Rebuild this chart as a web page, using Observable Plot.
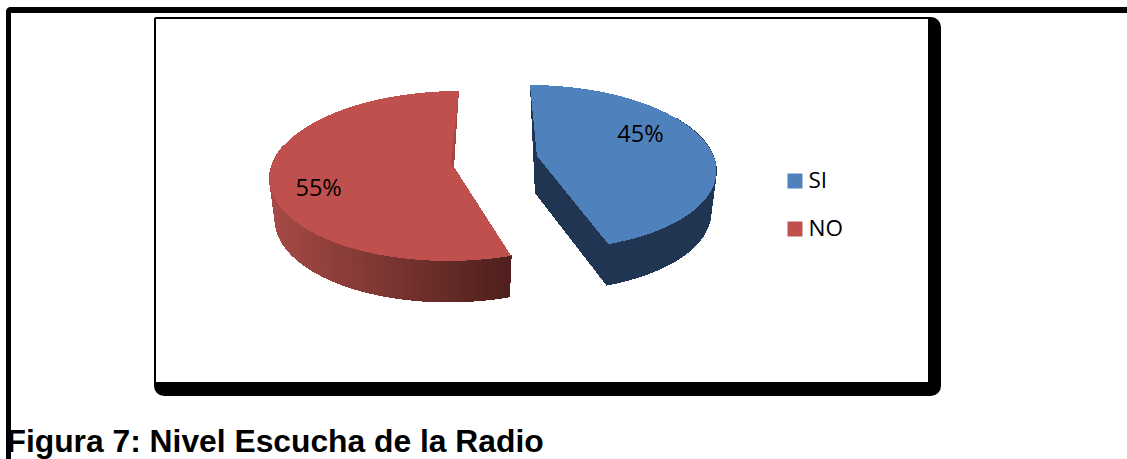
<!DOCTYPE html>
<html lang="es">
<head>
<meta charset="utf-8">
<title>Figura 7: Nivel Escucha de la Radio</title>
<script src="https://cdn.jsdelivr.net/npm/d3@7"></script>
<script src="https://cdn.jsdelivr.net/npm/@observablehq/plot@0.6"></script>
<style>
  html, body { margin: 0; padding: 0; background: #fff; }
  body { position: relative; width: 1127px; height: 459px; overflow: hidden; }
  .page-frame {
    position: absolute; left: 6px; top: 7px; width: 1140px; height: 470px;
    box-sizing: border-box;
    border-top: 6px solid #000; border-left: 5px solid #000;
    border-top-left-radius: 5px;
  }
  .chart-box {
    position: absolute; left: 154px; top: 17px; width: 787px; height: 379px;
    box-sizing: border-box; background: #fff;
    border-style: solid; border-color: #000;
    border-width: 2px 13px 14px 2px;
    border-radius: 2px 10px 10px 10px;
  }
  #chart { position: absolute; left: 0; top: 0; }
  #chart svg { background: transparent; display: block; }
</style>
</head>
<body>
<div class="page-frame"></div>
<div class="chart-box"></div>
<div id="chart"></div>
<script>
// Survey answers
const categories = ["SI", "NO"];
const percentages = [45, 55];
const faceColors = ["#4f81bd", "#c0504d"];
const captionText = "Figura 7: Nivel Escucha de la Radio";

// Scale of the pie's unit circle on the page
const centerX = 495.5, centerY = 161.5, unitX = 181, unitY = 84;

// Placement of each exploded slice, in unit-circle coordinates
const sliceSetup = {
  SI: {ox: 0.229, oy: -0.065, k: 0.136, sy: 0.96, sx: 0.975, lean: 0.044, label: [0.569, -0.262]},
  NO: {ox: -0.229, oy: 0.065, k: 0.106, sy: 1, sx: 1.01, lean: -0.03, label: [-0.751, 0.25]}
};
const wallDepth = 41 / unitY;
const floorShrink = 0.97;

const slices = d3.pie().sort(null).value((d) => d.value)(
  categories.map((name, i) => ({name, value: percentages[i], color: faceColors[i]}))
).map((arc) => ({...arc, name: arc.data.name, setup: sliceSetup[arc.data.name]}));

// Perspective projection of a rim point at angle a, on the top face or the floor
function rim(s, a, floor = false) {
  const {ox, oy, k, sy, sx, lean} = s.setup;
  const u = Math.sin(a), v = -Math.cos(a), w = 1 - k * v;
  const rx = (u * sx + lean * v) / w, ry = (sy * v) / w;
  return floor
    ? {x: ox + rx * floorShrink, y: oy + ry + wallDepth}
    : {x: ox + rx, y: oy + ry};
}
const hub = (s) => ({x: s.setup.ox, y: s.setup.oy});
const floorHub = (s) => ({x: s.setup.ox - 2 / unitX, y: s.setup.oy + 37 / unitY});

const steps = (a0, a1, n) => d3.range(n + 1).map((i) => a0 + (a1 - a0) * i / n);

// Band between two polylines of equal length
const band = (top, bottom, extra = {}) =>
  top.map((p, i) => ({x1: p.x, y1: p.y, x2: bottom[i].x, y2: bottom[i].y, ...extra}));

const [si, no] = slices;
const deg = Math.PI / 180;

// Fan of rim points around the hub gives the top face
const faceRows = (s) => {
  const ring = steps(s.startAngle, s.endAngle, 160).map((a) => rim(s, a));
  return band(ring.map(() => hub(s)), ring);
};

// Outer wall, split into strips so the red one can shade from left to right
const wallRows = (s, a0, a1, n, shade) => {
  const angles = steps(a0, a1, n);
  const xs = angles.map((a) => rim(s, a).x);
  const [xMin, xMax] = d3.extent(xs);
  return d3.range(n).flatMap((i) => {
    const pair = [angles[i], angles[i + 1]];
    const t = ((xs[i] + xs[i + 1]) / 2 - xMin) / (xMax - xMin);
    return band(pair.map((a) => rim(s, a)), pair.map((a) => rim(s, a, true)),
      {strip: i, color: shade(t)});
  });
};

const blueWall = wallRows(si, 60 * deg, si.endAngle, 50, () => "#1f3552");
const redShade = d3.interpolateRgb("#a54a46", "#4e1f1c");
const redWall = wallRows(no, no.startAngle, 285 * deg, 60, redShade);

// Cut faces of the blue slice, running from hub to rim on both sides
const blueCutNear = band(
  [hub(si), rim(si, si.endAngle)],
  [floorHub(si), rim(si, si.endAngle, true)]
);
const blueCutFar = band(
  [rim(si, si.startAngle), hub(si)],
  [rim(si, si.startAngle), floorHub(si)]
);

// Narrow cut face visible along the red slice's upper edge
const redCrease = band(
  [rim(no, no.endAngle), hub(no)],
  [rim(no, no.endAngle), {x: hub(no).x - 3 / unitX, y: hub(no).y - 4 / unitY}]
);

const bandMark = (rows, options) =>
  Plot.area(rows, {x1: "x1", y1: "y1", x2: "x2", y2: "y2", shapeRendering: "crispEdges", ...options});

const fontFamily = "'Open Sans', sans-serif";

const legendMarks = categories.flatMap((name, i) => {
  const dy = 180.5 + i * 48;
  return [
    Plot.dot([name], {
      frameAnchor: "top-left", dx: 794.5, dy, symbol: "square", r: 8.46,
      fill: faceColors[i], stroke: "none"
    }),
    Plot.text([name], {
      frameAnchor: "top-left", dx: 808, dy, text: (d) => d, textAnchor: "start",
      lineAnchor: "middle", fontSize: 22.5, fontFamily, fill: "#000"
    })
  ];
});

const chart = Plot.plot({
  width: 1127, height: 459,
  marginTop: 0, marginRight: 0, marginBottom: 0, marginLeft: 0,
  style: {background: "transparent"},
  x: {axis: null, domain: [-1, 1], range: [centerX - unitX, centerX + unitX]},
  y: {axis: null, domain: [-1, 1], range: [centerY - unitY, centerY + unitY]},
  marks: [
    // walls first, then the faces that sit on them
    bandMark(blueWall, {z: "strip", fill: "color", stroke: "color"}),
    bandMark(blueCutNear, {fill: "#1f3552"}),
    bandMark(blueCutFar, {fill: "#1f3552"}),
    bandMark(redWall, {z: "strip", fill: "color", stroke: "color"}),
    bandMark(faceRows(si), {fill: si.data.color}),
    bandMark(faceRows(no), {fill: no.data.color}),
    bandMark(redCrease, {fill: "#a54643"}),
    // percentage labels
    Plot.text(slices, {
      x: (d) => d.setup.ox + d.setup.label[0],
      y: (d) => d.setup.oy + d.setup.label[1],
      text: (d) => `${d.data.value}%`,
      fontSize: 23.5, fontFamily, fill: "#000", lineAnchor: "middle"
    }),
    ...legendMarks,
    Plot.text([captionText], {
      frameAnchor: "top-left", dx: 6, dy: 441, text: (d) => d, textAnchor: "start",
      lineAnchor: "middle", fontSize: 31.8, fontWeight: "bold",
      fontFamily: "'Liberation Sans', Arial, sans-serif", fill: "#000"
    })
  ]
});
document.getElementById("chart").append(chart);
</script>
</body>
</html>
